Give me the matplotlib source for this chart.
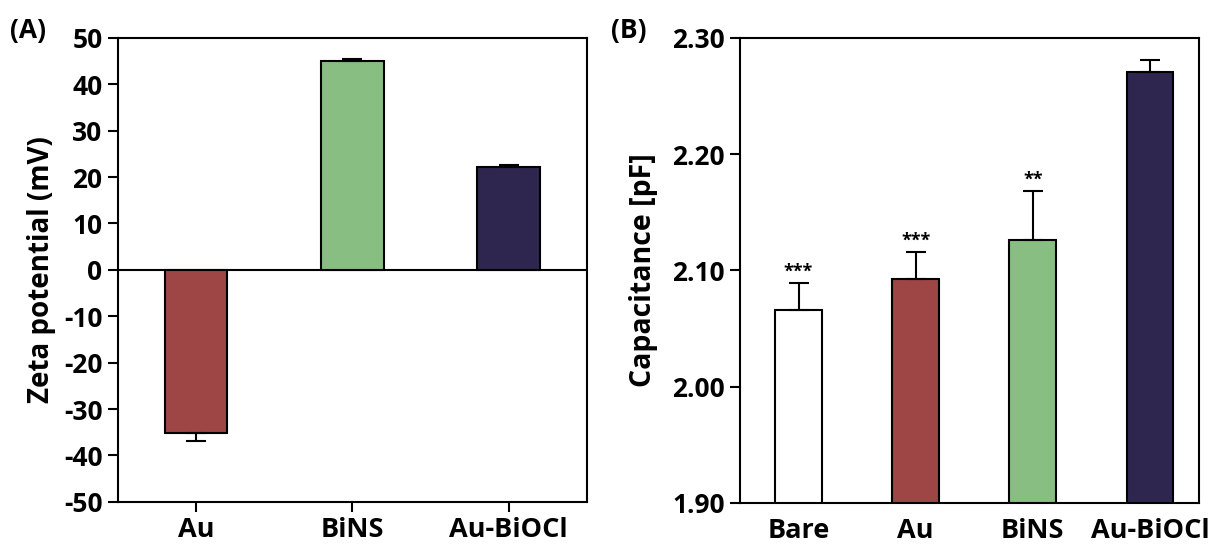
import numpy as np
import matplotlib.pyplot as plt

plt.rcParams['font.family'] = ['Open Sans', 'DejaVu Sans']
plt.rcParams['font.weight'] = 'bold'
plt.rcParams['axes.unicode_minus'] = False

# panel A data
zeta_labels = ['Au', 'BiNS', 'Au-BiOCl']
zeta_values = [-35.2, 45.1, 22.1]
zeta_errors = [1.6, 0.4, 0.4]
zeta_colors = ['#9e4546', '#88be82', '#2e264f']

# panel B data
cap_labels = ['Bare', 'Au', 'BiNS', 'Au-BiOCl']
cap_values = [2.066, 2.0925, 2.126, 2.271]
cap_errors = [0.0235, 0.023, 0.0425, 0.0097]
cap_colors = ['#ffffff', '#9e4546', '#88be82', '#2e264f']
cap_stars = ['***', '***', '**', '']

fig = plt.figure(figsize=(12.15, 5.49), dpi=100)
axA = fig.add_axes([0.097, 0.086, 0.386, 0.845])
axB = fig.add_axes([0.609, 0.084, 0.378, 0.847])

def style(ax):
    for s in ax.spines.values():
        s.set_linewidth(1.5)
    ax.tick_params(direction='out', length=7, width=1.5, pad=4)
    ax.tick_params(axis='y', labelsize=19)
    ax.tick_params(axis='x', labelsize=19.5)
    for lab in ax.get_xticklabels() + ax.get_yticklabels():
        lab.set_fontweight('bold')

# (A)
xa = np.arange(len(zeta_labels))
axA.bar(xa, zeta_values, width=0.40, color=zeta_colors, edgecolor='black', linewidth=1.5, zorder=2)
lower = [e if v < 0 else 0 for v, e in zip(zeta_values, zeta_errors)]
upper = [e if v >= 0 else 0 for v, e in zip(zeta_values, zeta_errors)]
axA.errorbar(xa, zeta_values, yerr=[lower, upper], fmt='none', ecolor='black',
             elinewidth=1.5, capsize=7, capthick=1.5, zorder=3)
axA.axhline(0, color='black', linewidth=1.5, zorder=1)
axA.set_xlim(-0.5, 2.5)
axA.set_ylim(-50, 50)
axA.set_yticks(np.arange(-50, 51, 10))
axA.set_xticks(xa)
axA.set_xticklabels(zeta_labels)
axA.set_ylabel('Zeta potential (mV)', fontsize=20, fontweight='bold', labelpad=6)
style(axA)
fig.text(0.008, 0.93, '(A)', fontsize=19, fontweight='bold')

# (B)
xb = np.arange(len(cap_labels))
axB.bar(xb, cap_values, width=0.40, color=cap_colors, edgecolor='black', linewidth=1.5, zorder=2)
axB.errorbar(xb, cap_values, yerr=[np.zeros(len(cap_errors)), cap_errors], fmt='none',
             ecolor='black', elinewidth=1.5, capsize=7, capthick=1.5, zorder=3)
for x, v, e, s in zip(xb, cap_values, cap_errors, cap_stars):
    if s:
        axB.text(x, v + e + 0.002, s, ha='center', va='bottom', fontsize=13, fontweight='bold')
axB.set_xlim(-0.5, 3.42)
axB.set_ylim(1.90, 2.30)
axB.set_yticks(np.arange(1.90, 2.301, 0.10))
axB.set_yticklabels(['%.2f' % t for t in np.arange(1.90, 2.301, 0.10)])
axB.set_xticks(xb)
axB.set_xticklabels(cap_labels)
axB.set_ylabel('Capacitance [pF]', fontsize=20.5, fontweight='bold', labelpad=10)
style(axB)
axB.tick_params(axis='x', length=0, pad=11)
fig.text(0.503, 0.93, '(B)', fontsize=19, fontweight='bold')

fig.savefig('out.png', dpi=100)
